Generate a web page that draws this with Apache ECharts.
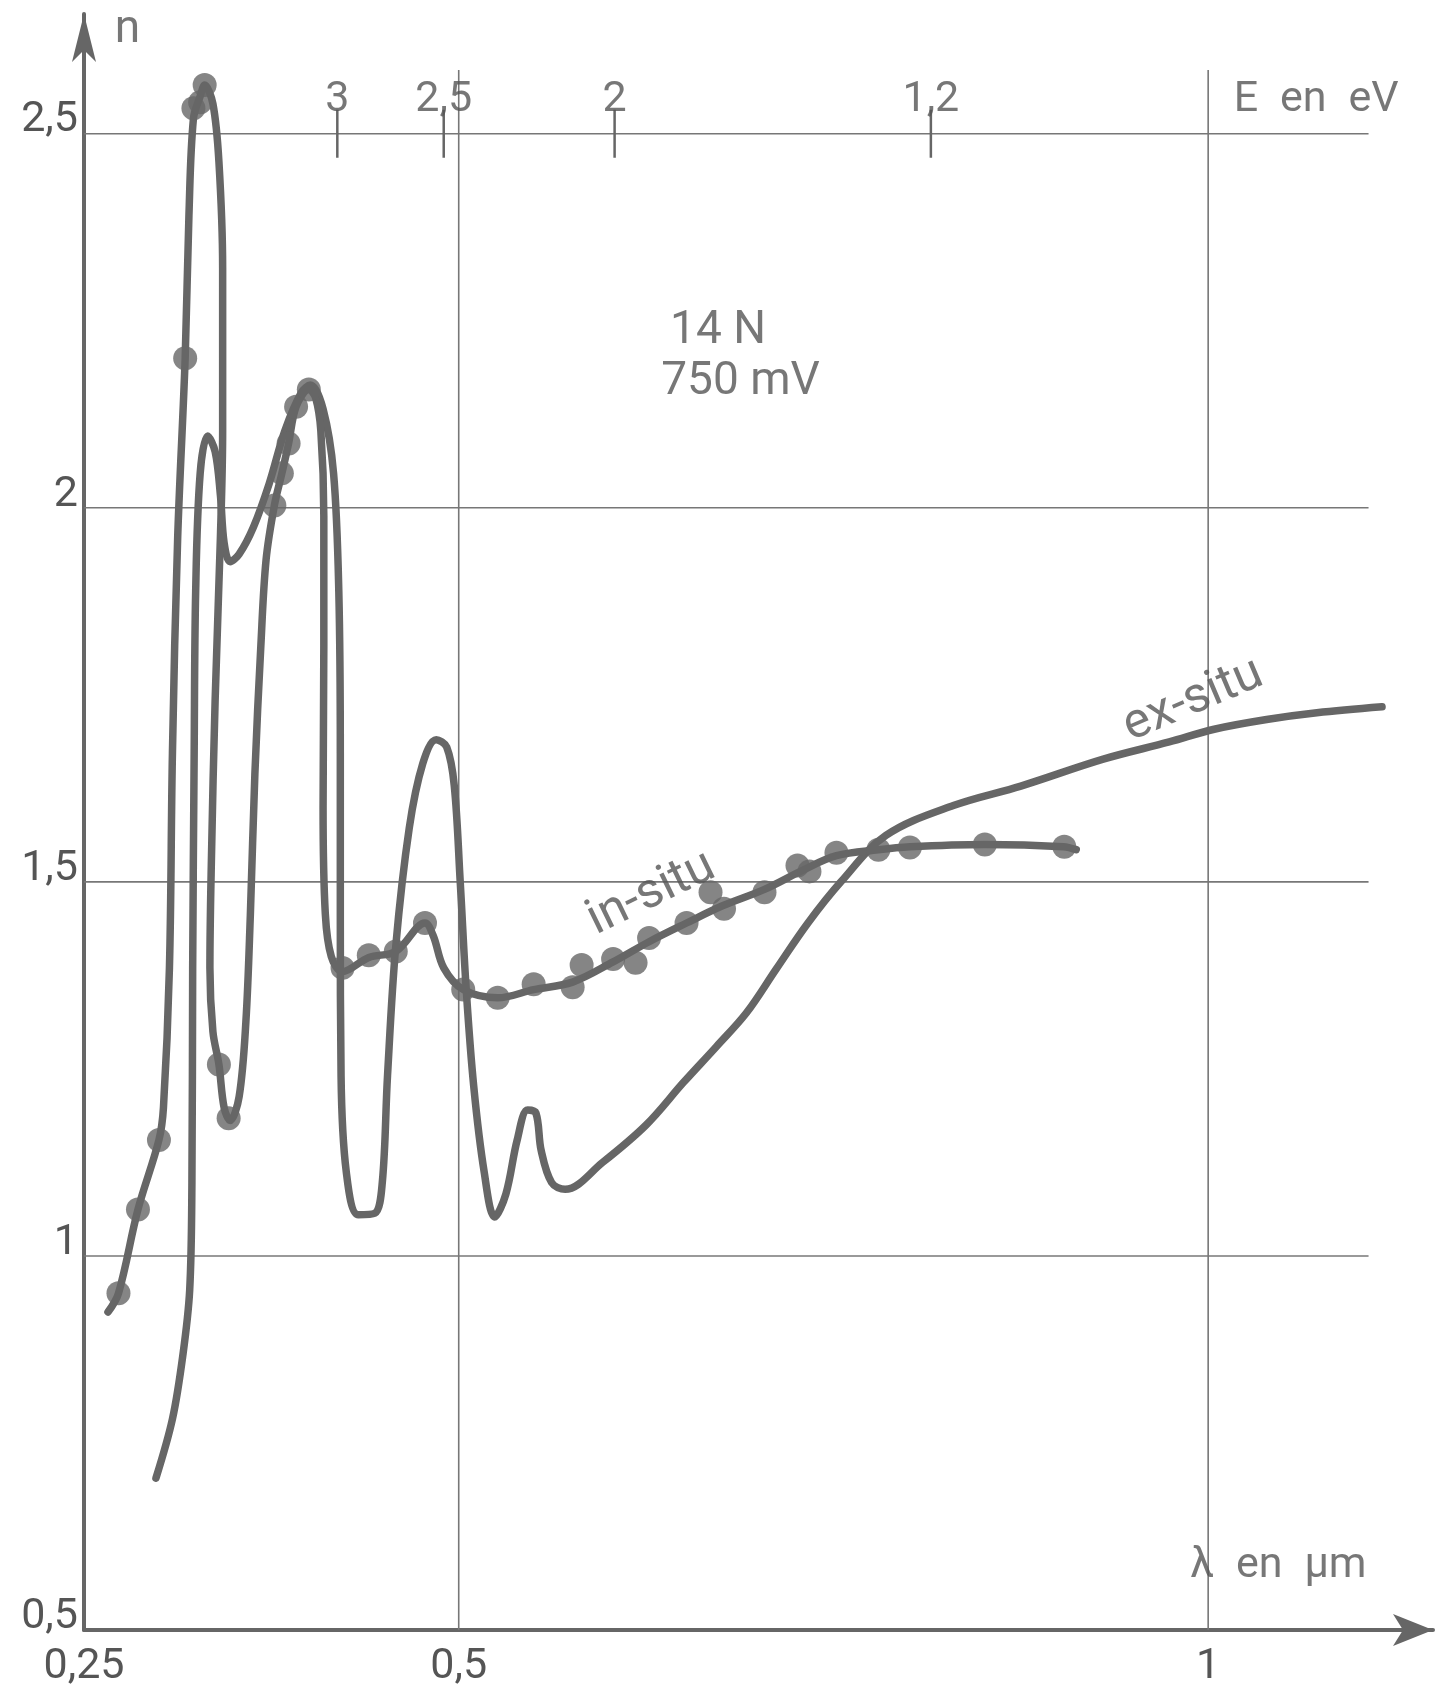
<!DOCTYPE html>
<html><head><meta charset="utf-8">
<script src="https://cdn.jsdelivr.net/npm/echarts@6/dist/echarts.min.js"></script>
<style>html,body{margin:0;padding:0;background:#fff}#c{width:1444px;height:1689px}</style>
</head><body><div id="c"></div>
<script>
// ---- data (λ in µm, n) ----
const inSituLam = [0.266,0.273,0.286,0.300,0.303,0.307,0.309,0.3125,0.3175,0.320,0.323,0.3275,0.3305,0.336,0.340,0.3425,0.3425,0.341,0.3375,0.335,0.334,0.336,0.340,0.3435,0.3475,0.3535,0.358,0.361,0.364,0.368,0.3715,0.377,0.382,0.3865,0.3915,0.400,0.4045,0.408,0.410,0.410,0.4095,0.411,0.415,0.4225,0.440,0.458,0.4775,0.483,0.490,0.503,0.526,0.550,0.576,0.603,0.627,0.652,0.676,0.704,0.730,0.752,0.780,0.801,0.851,0.9035,0.912];
const inSituN   = [0.925,0.950,1.062,1.155,1.198,1.385,1.672,1.960,2.200,2.390,2.520,2.550,2.565,2.540,2.463,2.320,2.103,1.960,1.744,1.529,1.385,1.300,1.256,1.198,1.181,1.213,1.313,1.457,1.644,1.816,1.931,2.003,2.046,2.086,2.135,2.158,2.147,2.103,1.989,1.816,1.600,1.457,1.400,1.380,1.399,1.407,1.445,1.428,1.385,1.356,1.345,1.356,1.366,1.393,1.420,1.445,1.468,1.490,1.516,1.535,1.543,1.547,1.550,1.547,1.543];

const inSituDotLam = [0.273,0.286,0.300,0.3175,0.323,0.3275,0.3305,0.340,0.3465,0.377,0.382,0.3865,0.3915,0.400,0.4225,0.440,0.458,0.4775,0.503,0.526,0.550,0.576,0.582,0.603,0.618,0.627,0.652,0.668,0.677,0.704,0.726,0.734,0.752,0.780,0.801,0.851,0.904];
const inSituDotN   = [0.950,1.062,1.155,2.200,2.534,2.542,2.565,1.256,1.184,2.003,2.046,2.086,2.135,2.158,1.385,1.402,1.407,1.445,1.356,1.345,1.363,1.359,1.389,1.397,1.392,1.425,1.445,1.486,1.464,1.486,1.522,1.514,1.539,1.543,1.546,1.550,1.547];

const exSituLam = [0.298,0.309,0.316,0.3205,0.322,0.3225,0.3235,0.3245,0.3275,0.3325,0.3375,0.341,0.3435,0.3475,0.3535,0.363,0.3735,0.384,0.395,0.401,0.4095,0.4165,0.420,0.421,0.421,0.4215,0.425,0.433,0.444,0.449,0.4525,0.458,0.467,0.476,0.485,0.492,0.497,0.501,0.505,0.510,0.517,0.524,0.5315,0.539,0.546,0.5515,0.555,0.562,0.571,0.596,0.625,0.650,0.672,0.692,0.712,0.733,0.755,0.785,0.830,0.875,0.930,0.974,1.004,1.039,1.0725,1.116];
const exSituN   = [0.703,0.782,0.868,0.954,1.098,1.385,1.672,1.888,2.046,2.096,2.075,2.017,1.953,1.928,1.938,1.974,2.032,2.103,2.154,2.164,2.132,2.046,1.888,1.672,1.457,1.241,1.112,1.055,1.057,1.098,1.241,1.414,1.572,1.658,1.690,1.680,1.629,1.500,1.356,1.227,1.112,1.052,1.083,1.155,1.195,1.191,1.141,1.098,1.089,1.125,1.175,1.232,1.280,1.325,1.384,1.445,1.500,1.562,1.602,1.628,1.664,1.687,1.704,1.717,1.726,1.734];

// axis ticks / grid
const xTickValues = [0.25, 0.5, 1];
const yTickValues = [0.5, 1, 1.5, 2, 2.5];
const gridN = [1, 1.5, 2, 2.5];
const gridLam = [0.5, 1];
const eTickLam = [0.419, 0.490, 0.604, 0.815];
const eTickLabels = ['3', '2,5', '2', '1,2'];

// annotations
const notes = [
  {name: 'n', lam: 0.279, n: 2.638},
  {name: '14 N', lam: 0.673, n: 2.235},
  {name: '750 mV', lam: 0.688, n: 2.167}
];

const GRAY = '#666';
const TXT = '#555';
const FONT = 'Roboto, "Liberation Sans", sans-serif';
const comma = v => String(v).replace('.', ',');
const pairs = (xs, ys) => xs.map((x, i) => [x, ys[i]]);

const series = [];
// horizontal grid lines
gridN.forEach(n => series.push({type:'line', data:[[0.25,n],[1.107,n]], symbol:'none', silent:true, z:1,
  lineStyle:{color:'#777', width:1.6}}));
// vertical grid lines
gridLam.forEach(l => series.push({type:'line', data:[[l,0.5],[l,2.585]], symbol:'none', silent:true, z:1,
  lineStyle:{color:'#777', width:1.6}}));
// energy ticks on top scale
eTickLam.forEach(l => series.push({type:'line', data:[[l,2.468],[l,2.532]], symbol:'none', silent:true, z:1,
  lineStyle:{color:'#666', width:2.5}}));
// energy labels
series.push({type:'scatter', symbolSize:0, silent:true, z:5,
  data: eTickLam.map((l,i) => ({value:[l, 2.545], name: eTickLabels[i]})),
  label:{show:true, position:'inside', formatter:p=>p.name, fontSize:43, fontFamily:FONT, color:TXT}});
series.push({type:'scatter', symbolSize:0, silent:true, z:5,
  data:[{value:[1.017, 2.545], name:'E\u2002en\u2002eV'}],
  label:{show:true, position:'right', distance:0, formatter:p=>p.name, fontSize:43, fontFamily:FONT, color:TXT}});
series.push({type:'scatter', symbolSize:0, silent:true, z:5,
  data:[{value:[0.988, 0.585], name:'λ\u2002en\u2002μm'}],
  label:{show:true, position:'right', distance:0, formatter:p=>p.name, fontSize:43, fontFamily:FONT, color:TXT}});
series.push({type:'scatter', symbolSize:0, silent:true, z:5,
  data: notes.map(d => ({value:[d.lam, d.n], name:d.name})),
  label:{show:true, position:'inside', formatter:p=>p.name, fontSize:46, fontFamily:FONT, color:TXT}});
series.push({type:'scatter', symbolSize:0, silent:true, z:5,
  data:[{value:[0.6286, 1.484], name:'in-situ'}],
  label:{show:true, position:'inside', rotate:26, formatter:p=>p.name, fontSize:50, fontFamily:FONT, color:TXT}});
series.push({type:'scatter', symbolSize:0, silent:true, z:5,
  data:[{value:[0.990, 1.742], name:'ex-situ'}],
  label:{show:true, position:'inside', rotate:23, formatter:p=>p.name, fontSize:50, fontFamily:FONT, color:TXT}});

// curves
series.push({name:'ex-situ', type:'line', data:pairs(exSituLam, exSituN), symbol:'none', smooth:0.35, z:3,
  lineStyle:{color:GRAY, width:7.5, cap:'round', join:'round'}});
series.push({name:'in-situ', type:'line', data:pairs(inSituLam, inSituN), symbol:'none', smooth:0.35, z:3,
  lineStyle:{color:GRAY, width:7.5, cap:'round', join:'round'}});
series.push({name:'in-situ points', type:'scatter', data:pairs(inSituDotLam, inSituDotN), symbol:'circle', symbolSize:24, z:4,
  itemStyle:{color:GRAY}});

const chart = echarts.init(document.getElementById('c'), null, {renderer:'canvas'});
chart.setOption({
  animation:false,
  backgroundColor:'#fff',
  grid:{left:84, right:11, top:14, bottom:59, containLabel:false},
  xAxis:{type:'value', min:0.25, max:1.15, interval:0.25,
    axisLine:{show:true, symbol:['none','arrow'], symbolSize:[24,40], lineStyle:{color:'#666', width:4}},
    axisTick:{show:false}, splitLine:{show:false},
    axisLabel:{customValues:xTickValues, margin:16, fontSize:43, fontFamily:FONT, color:TXT,
      formatter:v => xTickValues.includes(+v.toFixed(3)) ? comma(v) : ''}},
  yAxis:{type:'value', min:0.5, max:2.66, interval:0.5,
    axisLine:{show:true, symbol:['none','arrow'], symbolSize:[18,48], lineStyle:{color:'#666', width:4}},
    axisTick:{show:false}, splitLine:{show:false},
    axisLabel:{customValues:yTickValues, margin:6, fontSize:43, fontFamily:FONT, color:TXT,
      verticalAlign:'bottom', lineHeight:26,
      formatter:v => yTickValues.includes(+v.toFixed(3)) ? comma(v) : ''}},
  series: series
});
</script></body></html>
